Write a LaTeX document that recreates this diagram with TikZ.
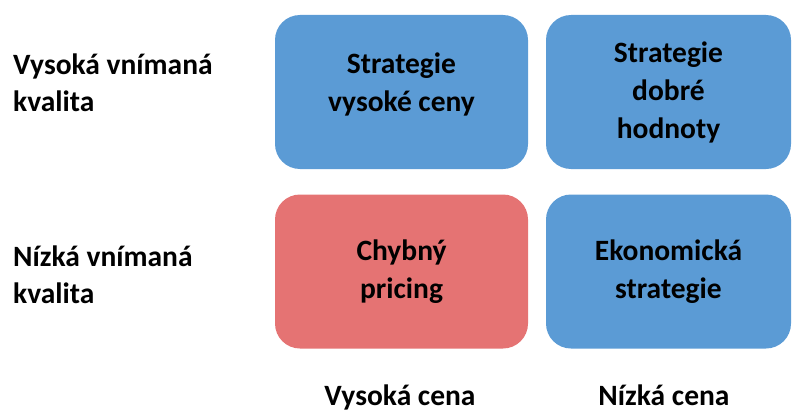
\documentclass[tikz,border=0pt]{standalone}
\usepackage{fontspec}
\setmainfont{Carlito}
\usepackage{xcolor}
\usetikzlibrary{positioning}
\definecolor{boxblue}{HTML}{5B9BD5}
\definecolor{boxred}{HTML}{E57373}
\tikzset{%
	quadrant/.style={
		draw=none,
		rounded corners=25pt,
		minimum height=154pt,
		align=center,
		inner sep=0pt,
		font=\fontsize{29.5}{38}\selectfont\bfseries
	},
	axis label/.style={
		draw=none,
		inner sep=0pt,
		font=\fontsize{29.5}{37}\selectfont\bfseries
	},
}
\begin{document}
\begin{tikzpicture}[x=1pt, y=-1pt]
	\useasboundingbox (0,0) rectangle (792,412);
	
	% Quadrants
	\node[quadrant, fill=boxblue, minimum width=253pt, text depth=19pt] (highprice) at (401.5,92) {Strategie\\vysoké ceny};
	\node[quadrant, fill=boxblue, minimum width=245pt] (goodvalue) at (668.5,92) {Strategie\\dobré\\hodnoty};
	\node[quadrant, fill=boxred, minimum width=253pt] (badpricing) at (401.5,271.5) {Chybný\\pricing};
	\node[quadrant, fill=boxblue, minimum width=245pt] (economy) at (668.5,271.5) {Ekonomická\\strategie};
	
	% Quality labels
	\node[axis label, anchor=base west, align=left] (highquality) at (13,111) {Vysoká vnímaná\\kvalita};
	\node[axis label, anchor=base west, align=left] (lowquality) at (13,303) {Nízká vnímaná\\kvalita};
	
	% Price labels
	\node[axis label, anchor=base] (highcost) at (400,405) {Vysoká cena};
	\node[axis label, anchor=base] (lowcost) at (664,405) {Nízká cena};
	
\end{tikzpicture}
\end{document}
